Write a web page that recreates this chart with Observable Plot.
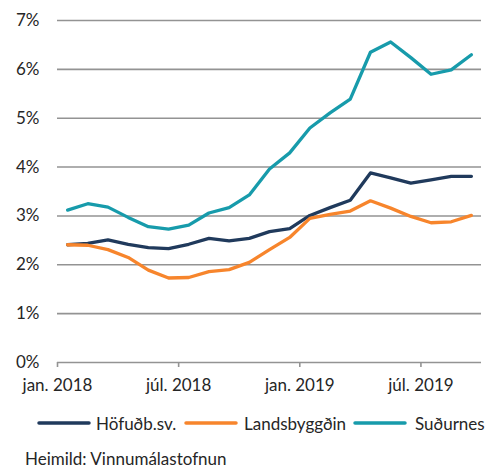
<!DOCTYPE html>
<html>
<head>
<meta charset="utf-8">
<script src="https://cdn.jsdelivr.net/npm/d3@7"></script>
<script src="https://cdn.jsdelivr.net/npm/@observablehq/plot@0.6"></script>
<style>
  html, body { margin: 0; padding: 0; background: #fff; }
  body { width: 498px; height: 468px; position: relative; overflow: hidden; font-family: Lato, "Open Sans", sans-serif; color: #262626; }
  #chart { position: absolute; left: 0; top: 0; }
  #legend { position: absolute; left: 0; top: 412px; width: 498px; height: 22px; font-size: 17px; }
  .item { position: absolute; top: 0; display: flex; align-items: center; height: 22px; white-space: nowrap; }
  #caption { position: absolute; left: 25px; top: 448px; font-size: 17px; }
</style>
</head>
<body>
<div id="chart"></div>
<div id="legend"></div>
<div id="caption">Heimild: Vinnumálastofnun</div>
<script>
const months = ["2018-01","2018-02","2018-03","2018-04","2018-05","2018-06","2018-07","2018-08","2018-09","2018-10","2018-11","2018-12","2019-01","2019-02","2019-03","2019-04","2019-05","2019-06","2019-07","2019-08","2019-09"];
const seriesNames = ["Höfuðb.sv.", "Landsbyggðin", "Suðurnes"];
const seriesColors = ["#203a5c", "#f7852c", "#179bab"];
const hofud = [2.41,2.44,2.51,2.42,2.35,2.33,2.42,2.54,2.49,2.54,2.68,2.74,3.01,3.17,3.32,3.88,3.78,3.67,3.74,3.81,3.81];
const lands = [2.41,2.40,2.31,2.15,1.89,1.73,1.74,1.86,1.90,2.05,2.31,2.56,2.95,3.03,3.10,3.31,3.16,2.99,2.86,2.88,3.01];
const sudur = [3.12,3.25,3.18,2.97,2.78,2.73,2.81,3.06,3.17,3.43,3.96,4.29,4.80,5.11,5.39,6.35,6.56,6.24,5.90,5.99,6.30];
const xTickMonths = ["2018-01","2018-07","2019-01","2019-07"];
const xTickLabels = ["jan. 2018","júl. 2018","jan. 2019","júl. 2019"];
const yTicks = [0,1,2,3,4,5,6,7];

const seriesValues = [hofud, lands, sudur];
const data = [];
seriesNames.forEach((name, s) => {
  months.forEach((m, i) => data.push({series: name, idx: i + 0.5, value: seriesValues[s][i]}));
});
const tickPos = xTickMonths.map(m => months.indexOf(m));

const gridColor = "#939393";
const chart = Plot.plot({
  width: 498,
  height: 400,
  marginLeft: 57,
  marginRight: 17,
  marginTop: 20,
  marginBottom: 38,
  style: {fontFamily: "Lato, 'Open Sans', sans-serif", fontSize: "17px", color: "#262626", background: "white"},
  x: {domain: [0, months.length], label: null},
  y: {domain: [0, 7], label: null},
  color: {domain: seriesNames, range: seriesColors},
  marks: [
    Plot.gridY(yTicks, {stroke: gridColor, strokeOpacity: 1, strokeWidth: 1.6}),
    Plot.axisY(yTicks, {tickSize: 0, tickPadding: 18, tickFormat: d => d + "%", label: null, fill: "#262626"}),
    Plot.axisX(tickPos, {tickSize: 5, tickPadding: 11, tickFormat: (d, i) => xTickLabels[i], label: null, stroke: gridColor, strokeWidth: 1.6, fill: "#262626"}),
    Plot.lineY(data, {x: "idx", y: "value", z: "series", stroke: "series", strokeWidth: 3.3, strokeLinejoin: "round", strokeLinecap: "round"})
  ]
});
document.getElementById("chart").appendChild(chart);

const legend = document.getElementById("legend");
const legendLeft = [37, 184, 353];
const legendTextGap = [5, 6, 8];
seriesNames.forEach((name, i) => {
  const item = document.createElement("div");
  item.className = "item";
  item.style.left = legendLeft[i] + "px";
  item.innerHTML = `<svg width="54" height="8" style="margin-right:${legendTextGap[i]}px"><line x1="2" y1="4" x2="52" y2="4" stroke="${seriesColors[i]}" stroke-width="3.5" stroke-linecap="round"/></svg><span>${name}</span>`;
  legend.appendChild(item);
});
</script>
</body>
</html>
